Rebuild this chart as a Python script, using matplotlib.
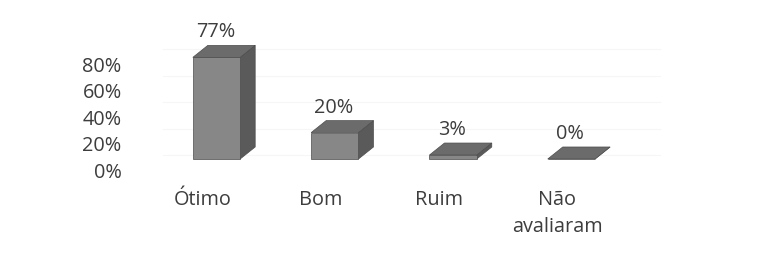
"""Avaliação: 3D-style column chart redrawn with flat polygons."""

import matplotlib
matplotlib.use("Agg")
import matplotlib.pyplot as plt
from matplotlib.patches import Polygon
from matplotlib.ticker import FuncFormatter
from matplotlib.transforms import ScaledTranslation


categories = ["Ótimo", "Bom", "Ruim", "Não\navaliaram"]
values = [77, 20, 3, 0]
value_labels = ["77%", "20%", "3%", "0%"]
y_ticks = [0, 20, 40, 60, 80]

# geometry of the fake 3D (in data units)
BAR_W = 0.40
DEPTH_X = 0.127
DEPTH_Y = 9.1

FRONT = "#878787"
SIDE = "#5a5a5a"
TOP = "#6b6b6b"
EDGE = "#4d4d4d"
TEXT = "#3d3d3d"
FONT = "Open Sans"
FS = 14.3


def draw_bar(ax, x, h):
    x0, x1 = x - BAR_W / 2, x + BAR_W / 2
    front = [(x0, 0), (x1, 0), (x1, h), (x0, h)]
    side = [(x1, 0), (x1 + DEPTH_X, DEPTH_Y), (x1 + DEPTH_X, h + DEPTH_Y), (x1, h)]
    top = [(x0, h), (x1, h), (x1 + DEPTH_X, h + DEPTH_Y), (x0 + DEPTH_X, h + DEPTH_Y)]
    for pts, col in ((side, SIDE), (front, FRONT), (top, TOP)):
        ax.add_patch(Polygon(pts, closed=True, facecolor=col, edgecolor=EDGE,
                             linewidth=0.5, zorder=3))


def main():
    fig = plt.figure(figsize=(7.69, 2.67), dpi=100)
    ax = fig.add_axes([130 / 769, 0, 639 / 769, 1])

    # pixel -> data mapping: 1% = 1.32 px, category step = 118.3 px
    ax.set_ylim(-108 / 1.32, 159 / 1.32)
    ax.set_xlim(-86.5 / 118.3, 552.5 / 118.3)

    # very faint back-wall gridlines (barely visible in the scan)
    for t in y_ticks:
        ax.plot([-0.45, 3.75], [t + DEPTH_Y - 6, t + DEPTH_Y - 6],
                color="#f6f6f6", linewidth=0.8, zorder=1)

    for i, (v, lab) in enumerate(zip(values, value_labels)):
        draw_bar(ax, i, v)
        ax.annotate(lab, xy=(i, v + DEPTH_Y), xytext=(-1, 13),
                    textcoords="offset pixels", ha="center", va="center",
                    fontsize=FS, family=FONT, color=TEXT, zorder=4)

    for i, cat in enumerate(categories):
        n = cat.count("\n") + 1
        ax.annotate(cat, xy=(i, 0), xytext=(-14, -41 - (n - 1) * 13.5),
                    textcoords="offset pixels", ha="center", va="center",
                    fontsize=FS, family=FONT, color=TEXT, linespacing=1.42)

    ax.set_yticks(y_ticks)
    ax.yaxis.set_major_formatter(FuncFormatter(lambda v, p: f"{int(v)}%"))
    ax.tick_params(axis="y", length=0, pad=6, labelsize=FS, labelcolor=TEXT)
    ax.tick_params(axis="x", bottom=False, labelbottom=False)
    shift = ScaledTranslation(0, -11 / 100, fig.dpi_scale_trans)
    for lbl in ax.get_yticklabels():
        lbl.set_family(FONT)
        lbl.set_transform(lbl.get_transform() + shift)
    for spine in ax.spines.values():
        spine.set_visible(False)
    ax.patch.set_alpha(0)

    fig.savefig("out.png", dpi=100)


if __name__ == "__main__":
    main()
